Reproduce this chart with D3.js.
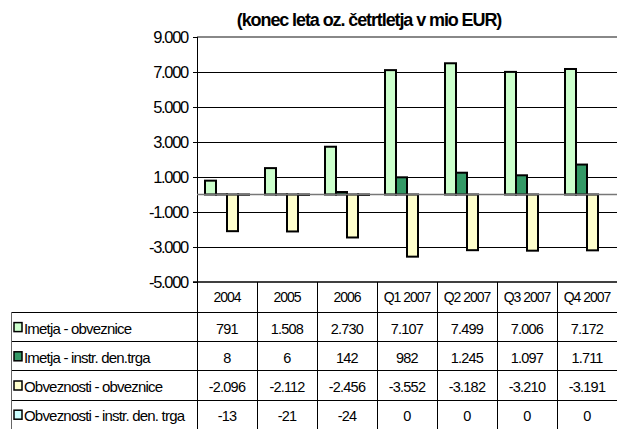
<!doctype html>
<html>
<head>
<meta charset="UTF-8">
<title>Vrednostni papirji</title>
<style>
	body { margin: 0; background: #ffffff; }
	#chart { font-size: 0; }
	text { font-family: "Liberation Sans", Arial, sans-serif; fill: #000; }
</style>
</head>
<body>
<div id="chart"></div>
<script src="https://cdn.jsdelivr.net/npm/d3@7"></script>
<script>
	var w = 617;
	var h = 429;

	var categories = ["2004", "2005", "2006", "Q1 2007", "Q2 2007", "Q3 2007", "Q4 2007"];
	var seriesNames = ["Imetja - obveznice", "Imetja - instr. den.trga", "Obveznosti - obveznice", "Obveznosti - instr. den. trga"];
	var imetjaObv = [791, 1508, 2730, 7107, 7499, 7006, 7172];
	var imetjaDen = [8, 6, 142, 982, 1245, 1097, 1711];
	var obveznostiObv = [-2096, -2112, -2456, -3552, -3182, -3210, -3191];
	var obveznostiDen = [-13, -21, -24, 0, 0, 0, 0];
	var yTicks = [9000, 7000, 5000, 3000, 1000, -1000, -3000, -5000];
	var colors = ["#ccffcc", "#339966", "#ffffcc", "#ccffff"];

	var series = [imetjaObv, imetjaDen, obveznostiObv, obveznostiDen];

	var sl = d3.formatLocale({decimal: ",", thousands: ".", grouping: [3], currency: ["", " EUR"], minus: "-"});
	var fmt = sl.format(",d");

	var plotL = 197, plotR = 617, plotT = 37, plotB = 282;
	var rowH = 29.2;

	var x0 = d3.scaleBand().domain(categories).range([plotL, plotR]);
	var x1 = d3.scaleBand().domain(d3.range(4)).range([8, 52]);
	var y = d3.scaleLinear().domain([-5000, 9000]).range([plotB, plotT]);

	var svg = d3.select("#chart").append("svg")
		.attr("width", w)
		.attr("height", h);

	// naslov (prva vrstica je odrezana)
	svg.append("text")
		.attr("x", 369).attr("y", 26)
		.attr("text-anchor", "middle")
		.attr("font-size", 18)
		.attr("font-weight", "bold")
		.attr("letter-spacing", -1.1)
		.text("(konec leta oz. četrtletja v mio EUR)");

	// mreža
	svg.append("g").selectAll("line")
		.data(yTicks.filter(function (d) { return d !== 9000 && d !== -5000; }))
		.enter().append("line")
		.attr("x1", plotL).attr("x2", plotR)
		.attr("y1", function (d) { return Math.round(y(d)) + 0.5; })
		.attr("y2", function (d) { return Math.round(y(d)) + 0.5; })
		.attr("stroke", "#000").attr("stroke-width", 1);

	// zgornji rob
	svg.append("line")
		.attr("x1", plotL).attr("x2", plotR)
		.attr("y1", y(9000)).attr("y2", y(9000))
		.attr("stroke", "#888").attr("stroke-width", 2);

	// os y
	var yAxis = d3.axisLeft(y).tickValues(yTicks).tickFormat(fmt).tickSize(4).tickPadding(5);
	var ya = svg.append("g")
		.attr("transform", "translate(" + plotL + ",0)")
		.call(yAxis);
	ya.select(".domain").remove();
	ya.selectAll(".tick line").attr("stroke", "#000");
	ya.selectAll(".tick text")
		.attr("font-size", 16.5)
		.attr("letter-spacing", -1.3)
		.attr("font-family", "'Liberation Sans', Arial, sans-serif")
		.attr("fill", "#000");
	svg.append("line")
		.attr("x1", plotL + 0.5).attr("x2", plotL + 0.5)
		.attr("y1", plotT).attr("y2", plotB)
		.attr("stroke", "#000");

	// stolpci
	var groups = svg.append("g").selectAll("g")
		.data(categories)
		.enter().append("g")
		.attr("transform", function (d) { return "translate(" + x0(d) + ",0)"; });

	groups.selectAll("rect")
		.data(function (d, i) { return series.map(function (s, k) { return {k: k, v: s[i]}; }); })
		.enter().append("rect")
		.attr("x", function (d) { return x1(d.k); })
		.attr("width", x1.bandwidth())
		.attr("y", function (d) { return y(Math.max(0, d.v)); })
		.attr("height", function (d) { return Math.abs(y(d.v) - y(0)); })
		.attr("fill", function (d) { return colors[d.k]; })
		.attr("stroke", "#000")
		.attr("stroke-width", 2);

	// os x (ničla)
	svg.append("line")
		.attr("x1", plotL).attr("x2", plotR)
		.attr("y1", y(0)).attr("y2", y(0))
		.attr("stroke", "#777").attr("stroke-width", 1.5);

	// tabela
	var tbl = svg.append("g");
	var tableLeft = 11;
	var rowsTop = plotB + 30;

	tbl.append("line")
		.attr("x1", plotL - 4).attr("x2", plotR)
		.attr("y1", plotB).attr("y2", plotB)
		.attr("stroke", "#000").attr("stroke-width", 1.5);

	for (var r = 0; r < 4; r++) {
		var yy = Math.round(rowsTop + r * rowH) + 0.5;
		tbl.append("line")
			.attr("x1", tableLeft).attr("x2", plotR)
			.attr("y1", yy).attr("y2", yy)
			.attr("stroke", "#000");
	}
	tbl.append("line")
		.attr("x1", tableLeft + 0.5).attr("x2", tableLeft + 0.5)
		.attr("y1", rowsTop).attr("y2", h)
		.attr("stroke", "#666");

	tbl.selectAll(".vline")
		.data(categories)
		.enter().append("line")
		.attr("class", "vline")
		.attr("x1", function (d) { return Math.round(x0(d)) + 0.5; })
		.attr("x2", function (d) { return Math.round(x0(d)) + 0.5; })
		.attr("y1", plotB).attr("y2", h)
		.attr("stroke", "#000");

	tbl.selectAll(".cat")
		.data(categories)
		.enter().append("text")
		.attr("class", "cat")
		.attr("x", function (d) { return x0(d) + x0.bandwidth() / 2; })
		.attr("y", plotB + 20)
		.attr("text-anchor", "middle")
		.attr("font-size", 14)
		.attr("letter-spacing", -1)
		.text(function (d) { return d; });

	series.forEach(function (s, k) {
		var cy = rowsTop + k * rowH + rowH / 2 + 7;
		tbl.append("rect")
			.attr("x", 14).attr("y", cy - 11)
			.attr("width", 8).attr("height", 9)
			.attr("fill", colors[k])
			.attr("stroke", "#000")
			.attr("stroke-width", 1.5);
		tbl.append("text")
			.attr("x", 24).attr("y", cy)
			.attr("font-size", 15)
			.attr("letter-spacing", -0.8)
			.text(seriesNames[k]);
		tbl.selectAll(".v" + k)
			.data(s)
			.enter().append("text")
			.attr("class", "v" + k)
			.attr("x", function (d, i) { return x0(categories[i]) + x0.bandwidth() / 2; })
			.attr("y", cy)
			.attr("text-anchor", "middle")
			.attr("font-size", 14.5)
			.attr("letter-spacing", -0.8)
			.text(function (d) { return fmt(d); });
	});
</script>
</body>
</html>
